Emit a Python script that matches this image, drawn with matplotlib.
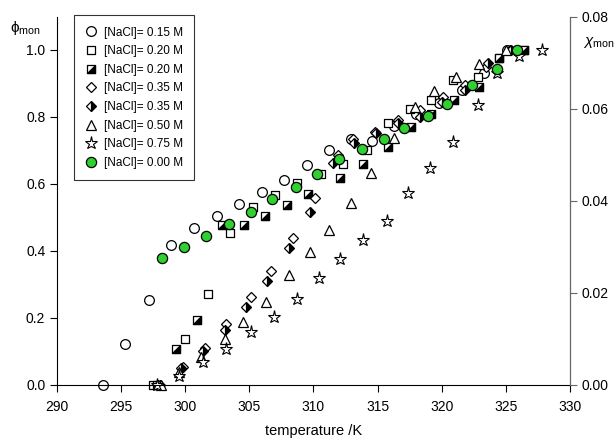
import matplotlib
matplotlib.use("Agg")
import matplotlib.pyplot as plt
from matplotlib.path import Path
import numpy as np

plt.rcParams['font.family'] = ['Liberation Sans', 'DejaVu Sans']
plt.rcParams['mathtext.fontset'] = 'custom'
plt.rcParams['mathtext.rm'] = 'Liberation Sans'
plt.rcParams['mathtext.it'] = 'Liberation Sans:italic'

labels = ["[NaCl]= 0.15 M", "[NaCl]= 0.20 M", "[NaCl]= 0.20 M", "[NaCl]= 0.35 M",
          "[NaCl]= 0.35 M", "[NaCl]= 0.50 M", "[NaCl]= 0.75 M", "[NaCl]= 0.00 M"]

T_c015 = [293.6, 295.3, 297.2, 298.9, 300.7, 302.5, 304.2, 306.0, 307.7, 309.5, 311.2, 312.9, 314.6, 316.3, 318.0, 319.8, 321.6, 323.3, 325.1]
P_c015 = [0.000, 0.122, 0.255, 0.418, 0.469, 0.505, 0.541, 0.576, 0.613, 0.657, 0.700, 0.734, 0.729, 0.773, 0.809, 0.840, 0.880, 0.930, 1.000]

T_s020 = [297.5, 300.0, 301.8, 303.5, 305.3, 307.0, 308.7, 310.6, 312.3, 314.2, 315.8, 317.5, 319.2, 320.9, 322.8, 324.5, 326.4]
P_s020 = [0.000, 0.136, 0.271, 0.454, 0.532, 0.567, 0.603, 0.629, 0.660, 0.701, 0.783, 0.824, 0.851, 0.910, 0.919, 0.976, 1.000]

T_h020 = [297.8, 299.3, 300.9, 302.9, 304.6, 306.2, 307.9, 309.6, 312.1, 313.9, 315.8, 317.6, 319.2, 321.0, 322.9, 324.5, 326.4]
P_h020 = [0.000, 0.107, 0.193, 0.477, 0.477, 0.504, 0.538, 0.570, 0.618, 0.660, 0.710, 0.771, 0.809, 0.849, 0.890, 0.975, 1.000]

T_d035 = [297.9, 299.8, 301.5, 303.2, 305.1, 306.7, 308.4, 310.1, 311.9, 313.1, 314.8, 316.6, 318.3, 320.1, 321.8, 323.5, 325.3]
P_d035 = [0.000, 0.055, 0.110, 0.181, 0.261, 0.340, 0.440, 0.557, 0.686, 0.735, 0.754, 0.790, 0.822, 0.860, 0.895, 0.950, 1.000]

T_hd035 = [298.0, 299.7, 301.4, 303.1, 304.7, 306.4, 308.1, 309.7, 311.5, 313.2, 314.9, 316.6, 318.3, 320.0, 321.8, 323.6, 325.4]
P_hd035 = [0.000, 0.050, 0.102, 0.164, 0.234, 0.310, 0.408, 0.517, 0.662, 0.721, 0.753, 0.781, 0.800, 0.845, 0.880, 0.960, 1.000]

T_t050 = [298.1, 299.5, 301.2, 303.1, 304.5, 306.3, 308.1, 309.7, 311.2, 312.9, 314.5, 316.3, 317.9, 319.4, 321.1, 322.9, 325.0]
P_t050 = [0.000, 0.040, 0.083, 0.137, 0.187, 0.249, 0.328, 0.398, 0.463, 0.544, 0.632, 0.736, 0.829, 0.876, 0.920, 0.957, 1.000]

T_st075 = [297.8, 299.5, 301.4, 303.2, 305.1, 306.9, 308.7, 310.4, 312.1, 313.9, 315.7, 317.4, 319.1, 320.9, 322.8, 324.3, 326.0, 327.8]
P_st075 = [0.000, 0.027, 0.067, 0.107, 0.157, 0.204, 0.257, 0.318, 0.376, 0.433, 0.490, 0.572, 0.647, 0.724, 0.835, 0.930, 0.983, 1.000]

T_g000 = [298.2, 299.9, 301.6, 303.4, 305.1, 306.8, 308.6, 310.3, 312.0, 313.8, 315.5, 317.1, 318.9, 320.4, 322.4, 324.3, 325.9]
P_g000 = [0.379, 0.413, 0.446, 0.481, 0.515, 0.554, 0.590, 0.631, 0.674, 0.704, 0.733, 0.766, 0.804, 0.839, 0.895, 0.943, 1.000]

x_ticks = [290, 295, 300, 305, 310, 315, 320, 325, 330]
y_ticks = [0.0, 0.2, 0.4, 0.6, 0.8, 1.0]
y2_ticks = [0.00, 0.02, 0.04, 0.06, 0.08]

fig = plt.figure(figsize=(6.14, 4.44), dpi=100)
ax = fig.add_axes([0.093, 0.133, 0.835, 0.829])
ax.set_xlim(290, 330)
ax.set_ylim(0, 1.0985)

sq = Path([(-1, -1), (1, -1), (1, 1), (-1, 1), (-1, -1)],
          [Path.MOVETO, Path.LINETO, Path.LINETO, Path.LINETO, Path.CLOSEPOLY])
tri = Path([(-1, -1), (1, -1), (1, 1), (-1, -1)],
           [Path.MOVETO, Path.LINETO, Path.LINETO, Path.CLOSEPOLY])

ms = 7
ew = 0.9
kw = dict(linestyle='none', markeredgecolor='black', markeredgewidth=ew)

h1, = ax.plot(T_c015, P_c015, marker='o', markersize=ms, markerfacecolor='white', **kw)
h2, = ax.plot(T_s020, P_s020, marker=sq, markersize=ms * 0.9, markerfacecolor='white', **kw)
h3a, = ax.plot(T_h020, P_h020, marker=sq, markersize=ms * 0.9, markerfacecolor='white', **kw)
h3b, = ax.plot(T_h020, P_h020, marker=tri, markersize=ms * 0.9, markerfacecolor='black', **kw)
h4, = ax.plot(T_d035, P_d035, marker='D', markersize=ms * 0.8, markerfacecolor='white', **kw)
h5, = ax.plot(T_hd035, P_hd035, marker='D', markersize=ms * 0.8, markerfacecolor='black',
              fillstyle='right', markerfacecoloralt='white', **kw)
h6, = ax.plot(T_t050, P_t050, marker='^', markersize=ms * 1.05, markerfacecolor='white', **kw)
h7, = ax.plot(T_st075, P_st075, marker='*', markersize=ms * 1.35, markerfacecolor='white',
              linestyle='none', markeredgecolor='black', markeredgewidth=0.8)
h8, = ax.plot(T_g000, P_g000, marker='o', markersize=ms * 1.05, markerfacecolor='#2fd12f', **kw)

for h in [h1, h2, h3a, h3b, h4, h5, h6, h7, h8]:
    h.set_clip_on(False)

leg = ax.legend([h1, h2, (h3a, h3b), h4, h5, h6, h7, h8], labels,
                loc='upper left', bbox_to_anchor=(0.033, 1.004), frameon=True, fancybox=False,
                fontsize=8.5, handletextpad=0.55, borderpad=0.95, labelspacing=0.56,
                handlelength=1.0, borderaxespad=0.0)
leg.get_frame().set_edgecolor('black')
leg.get_frame().set_linewidth(0.8)

ax.set_xticks(x_ticks)
ax.set_yticks(y_ticks)
ax.set_yticklabels(['0.0', '0.2', '0.4', '0.6', '0.8', '1.0'])
ax.tick_params(axis='both', direction='out', length=5, width=0.8, labelsize=10, colors='black')
ax.tick_params(axis='x', pad=6)
ax.spines['top'].set_visible(False)
ax.spines['right'].set_visible(False)
ax.spines['left'].set_linewidth(0.8)
ax.spines['bottom'].set_linewidth(0.8)

ax2 = ax.twinx()
ax2.set_ylim(0, 0.08)
ax2.set_yticks(y2_ticks)
ax2.set_yticklabels(['0.00', '0.02', '0.04', '0.06', '0.08'])
ax2.spines['top'].set_visible(False)
ax2.spines['left'].set_visible(False)
ax2.spines['bottom'].set_visible(False)
ax2.spines['right'].set_color('#666666')
ax2.spines['right'].set_linewidth(0.9)
ax2.tick_params(axis='y', direction='out', length=5, width=0.8, labelsize=10, color='#666666')

ax.set_xlabel('temperature /K', fontsize=10.5, labelpad=7)
fig.text(0.016, 0.938, '\u03d5' + r'$_{\mathrm{mon}}$', fontsize=11, ha='left', va='center')
fig.text(0.950, 0.905, r'$\chi_{\mathrm{mon}}$', fontsize=11, ha='left', va='center')

fig.savefig('out.png', dpi=100)
